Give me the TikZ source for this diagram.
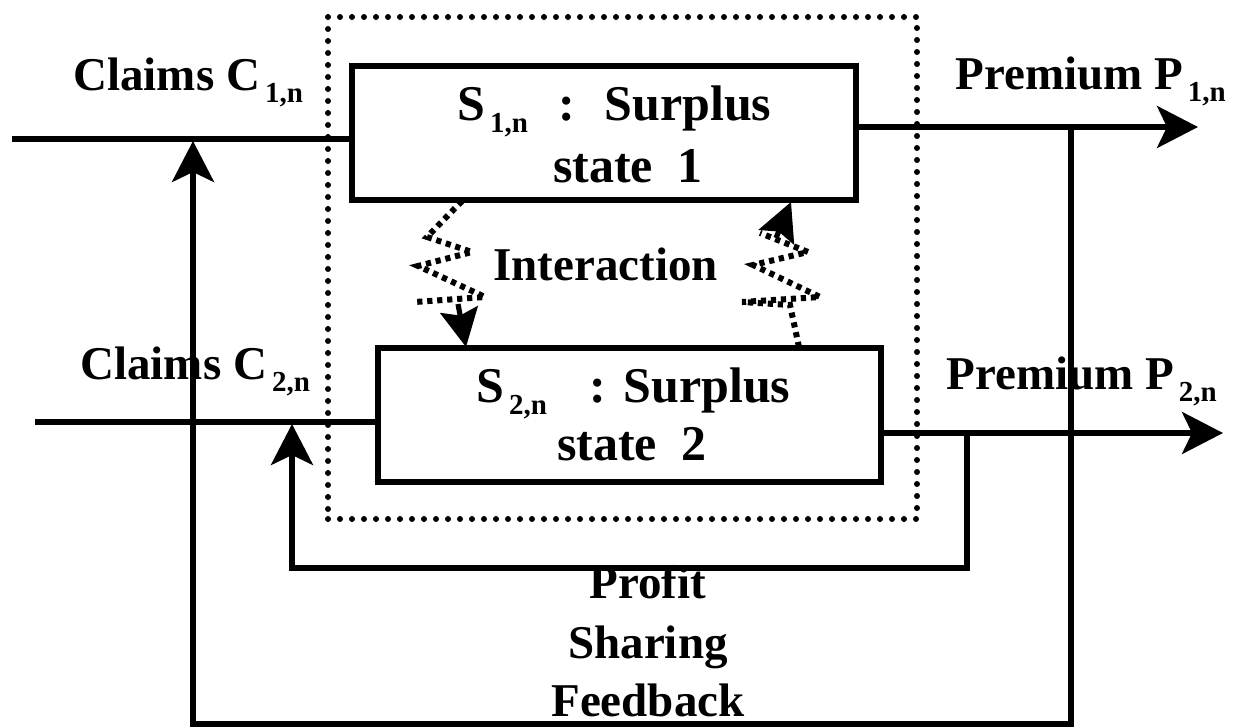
\documentclass[tikz,border=0pt]{standalone}
\usepackage{fontspec}
\setmainfont{Liberation Serif}
\usetikzlibrary{arrows.meta}
\newcommand{\sbx}[1]{\kern2.5pt\raisebox{-6pt}{\fontsize{14.5}{16}\selectfont\bfseries #1}}
\begin{document}
\begin{tikzpicture}[x=0.5pt,y=-0.5pt,
  lbl/.style={inner sep=0pt, font=\fontsize{23.5}{28}\selectfont\bfseries},
  blbl/.style={inner sep=0pt, font=\fontsize{25}{30}\selectfont\bfseries},
  ln/.style={line width=2.6pt},
  boxst/.style={draw, line width=2.8pt, inner sep=0pt, minimum width=252pt, minimum height=67pt},
  frame/.style={draw, line width=3pt, dash pattern=on 0pt off 6pt, line cap=round, inner sep=0pt, minimum width=294.5pt, minimum height=251pt},
  big/.style={-{Stealth[length=20.5pt,width=21pt,inset=5pt]}},
  wig/.style={line width=3pt, dash pattern=on 2.6pt off 2.4pt},
  wtip/.style={line width=2.6pt, -{Stealth[length=19pt,width=19pt,inset=3pt]}}]
\useasboundingbox (0,0) rectangle (1247,727);

% dotted frame
\node[frame] (fr) at (622.5,268) {};

% boxes
\node[boxst] (box1) at (604,133) {};
\node[boxst, minimum width=251.5pt] (box2) at (629.5,415) {};

% box texts
\node[blbl, anchor=base west] (b1a) at (457,121) {S\sbx{1,n}\hspace{15pt}:\hspace{15pt}Surplus};
\node[blbl, anchor=base] (b1b) at (628,183) {state\ \ 1};
\node[blbl, anchor=base west] (b2a) at (476,402) {S\sbx{2,n}\hspace{21pt}:\hspace{9pt}Surplus};
\node[blbl, anchor=base] (b2b) at (632,460) {state\ \ 2};

% labels
\node[lbl, anchor=base west] (c1) at (73,91) {Claims C\sbx{1,n}};
\node[lbl, anchor=base west] (p1) at (955,90) {Premium P\sbx{1,n}};
\node[lbl, anchor=base west] (c2) at (80,379) {Claims C\sbx{2,n}};
\node[lbl, anchor=base west] (p2) at (946,389) {Premium P\sbx{2,n}};
\node[lbl, anchor=base west] (inter) at (493,280) {Interaction};
\node[lbl, anchor=base] (psf1) at (648,598) {Profit};
\node[lbl, anchor=base] (psf2) at (648,658) {Sharing};
\node[lbl, anchor=base] (psf3) at (648,716) {Feedback};

% coordinates
\coordinate (in1) at (12,139);
\coordinate (out1) at (1198,127);
\coordinate (in2) at (35,422);
\coordinate (out2) at (1223,433);
\coordinate (j1) at (1071,127);
\coordinate (k1) at (1071,724);
\coordinate (k2) at (193,724);
\coordinate (t1) at (193,141);
\coordinate (j2) at (967,433);
\coordinate (m1) at (967,568);
\coordinate (m2) at (292,568);
\coordinate (t2) at (292,424);

% flows
\draw[ln] (in1) -- (in1 -| box1.west);
\draw[ln, big] (box1.east |- out1) -- (out1);
\draw[ln] (in2) -- (in2 -| box2.west);
\draw[ln, big] (box2.east |- out2) -- (out2);

% feedback loops
\draw[ln, big] (j1) -- (k1) -- (k2) -- (t1);
\draw[ln, big] (j2) -- (m1) -- (m2) -- (t2);

% interaction wiggles
\coordinate (wa0) at (462,201);
\coordinate (wa6) at (466,347);
\draw[wig] (wa0) -- (427,237) -- (472,252) -- (418,266) -- (485,297) -- (415,302);
\draw[wtip] (458,304) -- (wa6);
\coordinate (wb0) at (799,347);
\coordinate (wb6) at (791,202);
\draw[wig] (wb0) -- (790,305) -- (742,302) -- (820,297) -- (753,265) -- (808,252) -- (760,233);
\draw[wtip] (776,238) -- (wb6);
\end{tikzpicture}
\end{document}
